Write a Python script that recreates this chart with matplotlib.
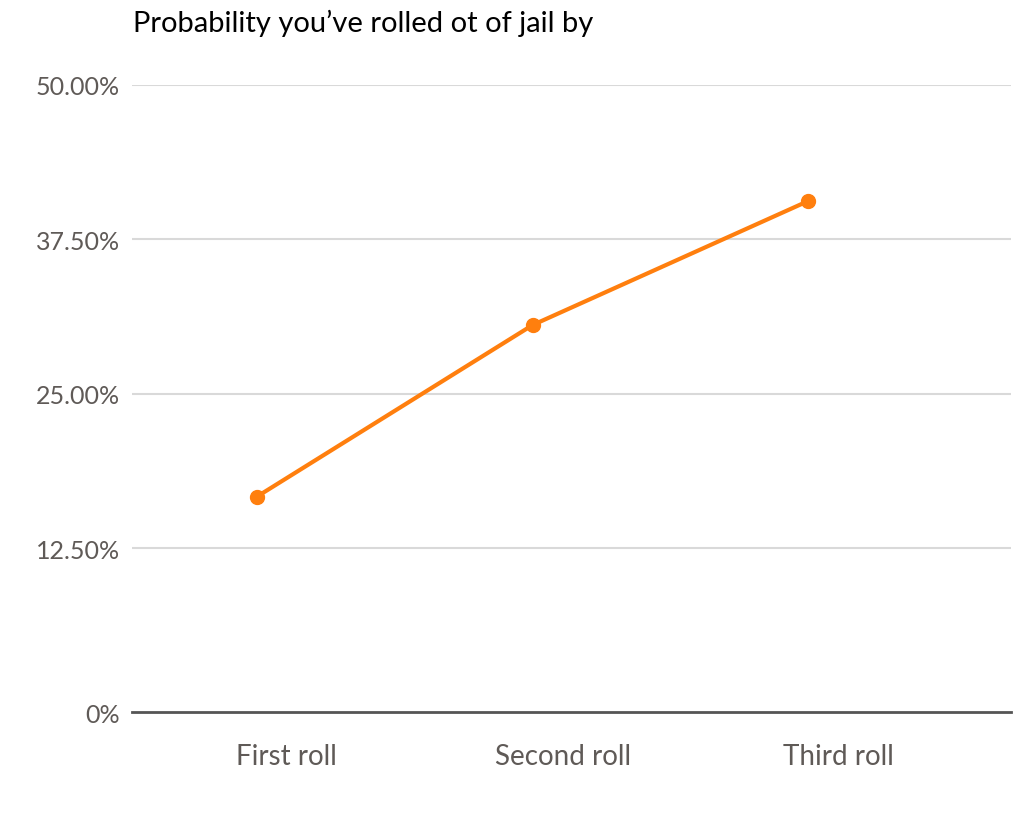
import matplotlib.pyplot as plt
from matplotlib.transforms import ScaledTranslation

plt.rcParams['font.family'] = ['Lato', 'DejaVu Sans']

# data
rolls = ["First roll", "Second roll", "Third roll"]
probability = [16.67, 30.56, 40.6]
y_ticks = [0, 12.5, 25, 37.5, 50]
y_tick_labels = ["0%", "12.50%", "25.00%", "37.50%", "50.00%"]
title = "Probability you\u2019ve rolled ot of jail by"

fig = plt.figure(figsize=(10.24, 8.28), dpi=100)
ax = fig.add_axes([0.129, 0.15, 0.858, 0.7465])

x = list(range(len(rolls)))
ax.plot(x, probability, color="#ff7f0e", linewidth=3, marker="o",
        markersize=10, zorder=3, clip_on=False)

ax.set_xlim(-0.452, 2.733)
ax.set_ylim(0, 50)
ax.set_yticks(y_ticks)
ax.set_yticklabels(y_tick_labels)
ax.set_xticks(x)
ax.set_xticklabels(rolls)

ax.grid(axis="y", color="#d9d9d9", linewidth=1.5)
ax.yaxis.get_gridlines()[0].set_visible(False)
ax.set_axisbelow(True)

for side in ["top", "right", "left"]:
    ax.spines[side].set_visible(False)
ax.spines["bottom"].set_position(("outward", 6.8))
ax.spines["bottom"].set_color("#555555")
ax.spines["bottom"].set_linewidth(2)

ax.tick_params(axis="y", length=0, pad=9, labelsize=18, labelcolor="#5f5a57")
ax.tick_params(axis="x", length=0, pad=22, labelsize=20, labelcolor="#5f5a57")

# the 0% label sits on the baseline, which is pushed below the scale
zero_lbl = ax.get_yticklabels()[0]
zero_lbl.set_transform(zero_lbl.get_transform() +
                       ScaledTranslation(0, -0.095, fig.dpi_scale_trans))
for lbl in ax.get_xticklabels():
    lbl.set_transform(lbl.get_transform() +
                      ScaledTranslation(0.3, 0, fig.dpi_scale_trans))

fig.text(0.13, 1 - 10 / 828, title, fontsize=21, color="black", va="top", ha="left")

fig.savefig("out.png", dpi=100, facecolor="white")
